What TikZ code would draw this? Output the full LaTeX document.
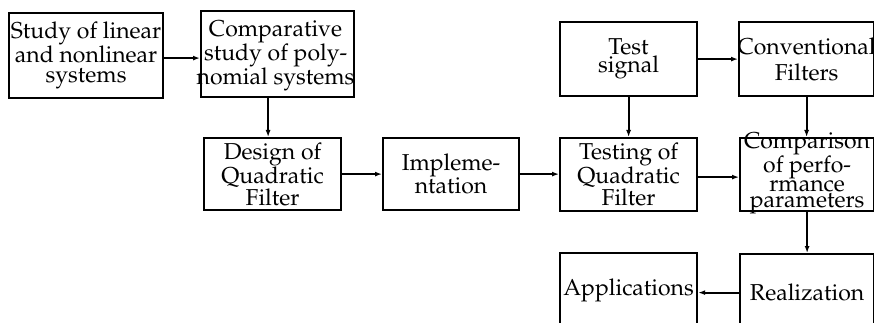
\documentclass[tikz,border=0pt]{standalone}
\usepackage[T1]{fontenc}
\usepackage{mathpazo}
\usetikzlibrary{arrows.meta,calc}

\begin{document}
\begin{tikzpicture}[x=1pt,y=-1pt,
  box/.style={draw, line width=2.2pt, inner sep=0pt, minimum width=#1, anchor=north west},
  lbl/.style={align=center, inner sep=0pt, font=\fontsize{23}{#1}\selectfont},
  lbl/.default=20.5,
  arr/.style={line width=1.8pt, -{Latex[length=7pt,width=5pt]}}]
\useasboundingbox (0,0) rectangle (874,323);
\clip (0,0) rectangle (874,323);

% top row
\node[box=154pt, minimum height=85pt] (lin) at (8,12) {};
\node[box=153pt, minimum height=86pt] (cmp) at (200,10) {};
\node[box=137pt, minimum height=74pt] (tst) at (559,21) {};
\node[box=135pt, minimum height=74pt] (cnv) at (738,21) {};

% middle row
\node[box=137pt, minimum height=72pt] (des) at (203,137) {};
\node[box=136pt, minimum height=72pt] (imp) at (382,137) {};
\node[box=137pt, minimum height=73pt] (tqf) at (559,137) {};
\node[box=134pt, minimum height=73pt] (per) at (739,137) {};

% bottom row (runs past the lower edge)
\node[box=137pt, minimum height=78pt] (app) at (559,252) {};
\node[box=134pt, minimum height=77pt] (rea) at (739,253) {};

% labels
\node[lbl=20.5] (linT) at (lin.center) {Study of linear\\and nonlinear\\systems};
\node[lbl=17.5] (cmpT) at ($(cmp.center)+(-2,2)$) {Comparative\\study of poly-\\nomial systems};
\node[lbl=18] (tstT) at (tst.center) {Test\\signal};
\node[lbl=26] (cnvT) at (cnv.center) {Conventional\\Filters};
\node[lbl=20.5] (desT) at (des.center) {Design of\\Quadratic\\Filter};
\node[lbl=22] (impT) at (imp.center) {Impleme-\\ntation};
\node[lbl=20.5] (tqfT) at (tqf.center) {Testing of\\Quadratic\\Filter};
\node[lbl=16.3] (perT) at ($(per.center)+(0,-1.5)$) {Comparison\\of perfo-\\rmance\\parameters};
\node[lbl] (appT) at ($(app.center)+(0,-2)$) {Applications};
\node[lbl] (reaT) at (rea.center) {Realization};

% connectors
\coordinate (c1) at ($(lin.east)+(0,2.5)$);
\draw[arr] (c1) -- (c1 -| cmp.west);
\coordinate (c2) at ($(des.north)+(-4.5,0)$);
\draw[arr] (c2 |- cmp.south) -- (c2);
\draw[arr] (des.east) -- (des.east -| imp.west);
\draw[arr] (imp.east) -- (imp.east -| tqf.west);
\draw[arr] (tst.east) -- (tst.east -| cnv.west);
\draw[arr] (tst.south) -- (tqf.north -| tst.south);
\draw[arr] (cnv.south) -- (per.north -| cnv.south);
\coordinate (c3) at ($(tqf.east)+(0,2.5)$);
\draw[arr] (c3) -- (c3 -| per.west);
\draw[arr] (per.south) -- (rea.north -| per.south);
\draw[arr] (rea.west) -- (rea.west -| app.east);
\end{tikzpicture}
\end{document}
